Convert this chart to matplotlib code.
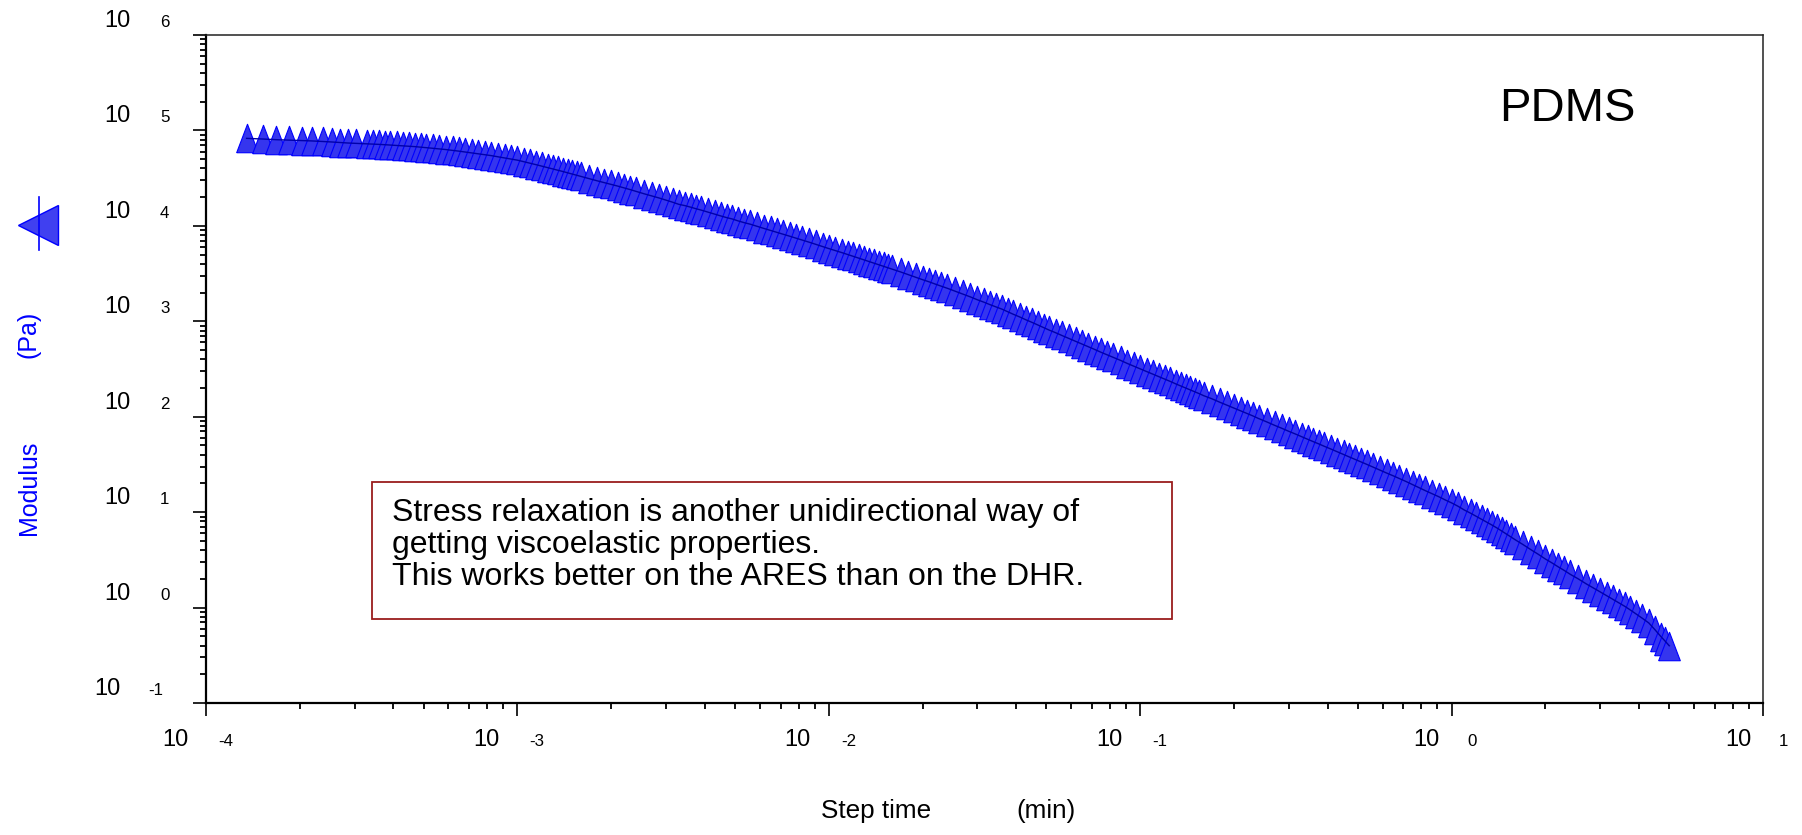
import numpy as np
import matplotlib
matplotlib.use('Agg')
import matplotlib.pyplot as plt
from matplotlib.lines import Line2D
from matplotlib.patches import Rectangle
from matplotlib.ticker import LogLocator
from matplotlib.transforms import blended_transform_factory, ScaledTranslation

W, H, DPI = 1802, 835, 100
plt.rcParams['font.family'] = ['Liberation Sans', 'DejaVu Sans']

# ---- data, step time in min, modulus in Pa ----
time_dec4 = [1.35e-4, 1.52e-4, 1.68e-4, 1.85e-4, 2.03e-4, 2.19e-4, 2.37e-4, 2.53e-4, 2.70e-4,
             2.86e-4, 3.04e-4, 3.3e-4, 3.45e-4, 3.6e-4, 3.75e-4, 3.9e-4, 4.1e-4, 4.3e-4, 4.5e-4,
             4.7e-4, 4.9e-4, 5.1e-4, 5.35e-4, 5.6e-4, 5.9e-4, 6.2e-4, 6.5e-4, 6.8e-4, 7.15e-4,
             7.5e-4, 7.85e-4, 8.2e-4, 8.65e-4, 9.1e-4, 9.55e-4]
mod_dec4 = [82600, 81300, 80000, 79100, 78200, 77600, 76600, 75700, 74600,
            73800, 73100, 72300, 71900, 71400, 70900, 70300, 69600, 68900, 68200,
            67600, 66800, 65900, 65000, 64100, 63000, 61800, 60600, 59400, 58200,
            57000, 55800, 54600, 53000, 51500, 50100]

time_dec3 = [1.0e-3, 1.05e-3, 1.1e-3, 1.15e-3, 1.2e-3, 1.25e-3, 1.3e-3, 1.35e-3, 1.4e-3, 1.45e-3,
             1.5e-3, 1.55e-3, 1.6e-3, 1.7e-3, 1.8e-3, 1.9e-3, 2.0e-3, 2.1e-3, 2.2e-3, 2.3e-3,
             2.4e-3, 2.55e-3, 2.7e-3, 2.85e-3, 3.0e-3, 3.15e-3, 3.3e-3, 3.45e-3, 3.6e-3, 3.75e-3,
             3.9e-3, 4.1e-3, 4.3e-3, 4.5e-3, 4.7e-3, 4.9e-3, 5.1e-3, 5.35e-3, 5.6e-3, 5.9e-3,
             6.2e-3, 6.5e-3, 6.8e-3, 7.15e-3, 7.5e-3, 7.85e-3, 8.2e-3, 8.65e-3, 9.1e-3, 9.55e-3]
mod_dec3 = [48800, 47000, 45300, 43700, 42200, 40800, 39500, 38300, 37100, 36000,
            34900, 33900, 33000, 31300, 29700, 28400, 27200, 26100, 25000, 24000,
            23000, 21700, 20600, 19600, 18600, 17700, 16800, 16300, 15700, 15100,
            14600, 13900, 13300, 12700, 12200, 11800, 11300, 10800, 10400, 9860,
            9380, 8960, 8570, 8170, 7780, 7440, 7110, 6740, 6380, 6070]

time_dec2 = [1.0e-2, 1.05e-2, 1.1e-2, 1.15e-2, 1.2e-2, 1.25e-2, 1.3e-2, 1.35e-2, 1.4e-2, 1.45e-2,
             1.5e-2, 1.55e-2, 1.6e-2, 1.7e-2, 1.8e-2, 1.9e-2, 2.0e-2, 2.1e-2, 2.2e-2, 2.3e-2,
             2.4e-2, 2.55e-2, 2.7e-2, 2.85e-2, 3.0e-2, 3.15e-2, 3.3e-2, 3.45e-2, 3.6e-2, 3.75e-2,
             3.9e-2, 4.1e-2, 4.3e-2, 4.5e-2, 4.7e-2, 4.9e-2, 5.1e-2, 5.35e-2, 5.6e-2, 5.9e-2,
             6.2e-2, 6.5e-2, 6.8e-2, 7.15e-2, 7.5e-2, 7.85e-2, 8.2e-2, 8.65e-2, 9.1e-2, 9.55e-2]
mod_dec2 = [5780, 5510, 5250, 5010, 4790, 4580, 4390, 4220, 4060, 3900,
            3760, 3630, 3510, 3290, 3080, 2900, 2730, 2590, 2450, 2330,
            2220, 2060, 1920, 1800, 1680, 1585, 1490, 1413, 1340, 1262,
            1190, 1111, 1035, 972, 912, 859, 809, 759, 711, 662,
            617, 578, 542, 506, 472, 444, 418, 389, 361, 338]

time_dec1 = [1.0e-1, 1.05e-1, 1.1e-1, 1.15e-1, 1.2e-1, 1.25e-1, 1.3e-1, 1.35e-1, 1.4e-1, 1.45e-1,
             1.5e-1, 1.55e-1, 1.6e-1, 1.7e-1, 1.8e-1, 1.9e-1, 2.0e-1, 2.1e-1, 2.2e-1, 2.3e-1,
             2.4e-1, 2.55e-1, 2.7e-1, 2.85e-1, 3.0e-1, 3.15e-1, 3.3e-1, 3.45e-1, 3.6e-1, 3.75e-1,
             3.9e-1, 4.1e-1, 4.3e-1, 4.5e-1, 4.7e-1, 4.9e-1, 5.1e-1, 5.35e-1, 5.6e-1, 5.9e-1,
             6.2e-1, 6.5e-1, 6.8e-1, 7.15e-1, 7.5e-1, 7.85e-1, 8.2e-1, 8.65e-1, 9.1e-1, 9.55e-1]
mod_dec1 = [317, 297, 278, 262, 247, 234, 221, 210, 200, 191,
            182, 174, 166, 154, 142, 132, 123, 115, 108, 102,
            95.7, 88.2, 81.3, 75.6, 70.3, 65.9, 61.7, 58.1, 54.7, 51.8,
            49.0, 45.8, 42.8, 40.2, 37.8, 35.7, 33.7, 31.6, 29.6, 27.5,
            25.6, 24.0, 22.5, 20.9, 19.4, 18.1, 16.9, 15.6, 14.5, 13.4]

time_dec0 = [1.0, 1.05, 1.1, 1.15, 1.2, 1.25, 1.3, 1.35, 1.4, 1.45,
             1.5, 1.55, 1.6, 1.7, 1.8, 1.9, 2.0, 2.1, 2.2, 2.3,
             2.4, 2.55, 2.7, 2.85, 3.0, 3.15, 3.3, 3.45, 3.6, 3.75,
             3.9, 4.1, 4.3, 4.5, 4.7, 4.85, 5.0]
mod_dec0 = [12.5, 11.5, 10.5, 9.76, 9.04, 8.41, 7.83, 7.30, 6.81, 6.33,
            5.89, 5.50, 5.14, 4.55, 4.03, 3.61, 3.23, 2.94, 2.67, 2.45,
            2.24, 2.00, 1.78, 1.61, 1.46, 1.33, 1.22, 1.12, 1.03, 0.943,
            0.863, 0.771, 0.689, 0.585, 0.497, 0.445, 0.398]

time_min = time_dec4 + time_dec3 + time_dec2 + time_dec1 + time_dec0
modulus_pa = mod_dec4 + mod_dec3 + mod_dec2 + mod_dec1 + mod_dec0

x_tick_exps = [-4, -3, -2, -1, 0, 1]
y_tick_exps = [-1, 0, 1, 2, 3, 4, 5, 6]
title_text = "PDMS"
note_lines = [
    "Stress relaxation is another unidirectional way of",
    "getting viscoelastic properties.",
    "This works better on the ARES than on the DHR.",
]
x_label_parts = ["Step time", "(min)"]
y_label_parts = ["Modulus", "(Pa)"]

# ---- figure ----
fig = plt.figure(figsize=(W / DPI, H / DPI), dpi=DPI)
fig.patch.set_facecolor('white')


def fx(px):
    return px / W


def fy(py):
    return 1 - py / H


def off(dx, dy):
    return ScaledTranslation(dx / DPI, -dy / DPI, fig.dpi_scale_trans)


ax = fig.add_axes([fx(206), fy(703), fx(1763) - fx(206), fy(35) - fy(703)])
ax.set_xscale('log')
ax.set_yscale('log')
ax.set_xlim(1e-4, 1e1)
ax.set_ylim(1e-1, 1e6)

for a in (ax.xaxis, ax.yaxis):
    a.set_major_locator(LogLocator(base=10, numticks=20))
    a.set_minor_locator(LogLocator(base=10, subs=np.arange(2, 10), numticks=20))
ax.tick_params(which='major', direction='out', length=9.5, width=1.2,
               labelbottom=False, labelleft=False, color='black')
ax.tick_params(which='minor', direction='out', length=4.5, width=1.3, color='black')

for s in ('left', 'bottom'):
    ax.spines[s].set_linewidth(1.6)
    ax.spines[s].set_color('black')
for s in ('top', 'right'):
    ax.spines[s].set_linewidth(1.1)
    ax.spines[s].set_color('#222222')

tri = [(-0.76, -1.0), (0.76, -1.0), (0.0, 1.0), (-0.76, -1.0)]
ax.plot(time_min, modulus_pa, linestyle='none', marker=tri, markersize=20.5,
        markerfacecolor='#3535ee', markeredgecolor='#0000ff', markeredgewidth=0.8,
        zorder=2, clip_on=False)
ax.plot(time_min, modulus_pa, color='#0000aa', lw=1.0, zorder=3)

# tick labels: "10" with the exponent as separate text on the same baseline
xt = blended_transform_factory(ax.transData, fig.transFigure)
for e in x_tick_exps:
    t = 10.0 ** e
    dten, dexp = (-18, 12) if e < 0 else (-12, 16)
    ax.text(t, fy(746), "10", transform=xt + off(dten, 0), ha='right', va='baseline',
            fontsize=17, color='black')
    ax.text(t, fy(746), str(e), transform=xt + off(dexp, 0), ha='left', va='baseline',
            fontsize=12.2, color='black')

yt = blended_transform_factory(fig.transFigure, ax.transData)
for e in y_tick_exps:
    v = 10.0 ** e
    ten_right, exp_left = (131, 160) if e >= 0 else (121, 148)
    ax.text(fx(ten_right), v, "10", transform=yt + off(0, -8), ha='right', va='baseline',
            fontsize=17, color='black')
    ax.text(fx(exp_left), v, str(e), transform=yt + off(0, -8), ha='left', va='baseline',
            fontsize=12.2, color='black')

# axis labels
fig.text(fx(821), fy(818), x_label_parts[0], ha='left', va='baseline', fontsize=18.8)
fig.text(fx(1016), fy(818), x_label_parts[1], ha='left', va='baseline', fontsize=18.8)
fig.text(fx(29), fy(488), y_label_parts[0], ha='center', va='center', rotation=90,
         fontsize=18, color='#0000ff')
fig.text(fx(29), fy(334), y_label_parts[1], ha='center', va='center', rotation=90,
         fontsize=18, color='#0000ff')

# legend symbol at left
fig.add_artist(Line2D([fx(37.5)], [fy(225)], marker='<', markersize=28.8, linestyle='none',
                      markerfacecolor='#4040f0', markeredgecolor='#0000ff',
                      markeredgewidth=1.0, transform=fig.transFigure))
fig.add_artist(Line2D([fx(39.3), fx(39.3)], [fy(197), fy(250)], color='#0000ff', lw=1.2,
                      transform=fig.transFigure))

# PDMS title
fig.text(fx(1499), fy(121), title_text, ha='left', va='baseline', fontsize=34)

# note box
fig.add_artist(Rectangle((fx(372), fy(619)), fx(1172) - fx(372), fy(482) - fy(619),
                         transform=fig.transFigure, fill=False, edgecolor='#9a1c1c', lw=1.3))
for line, base in zip(note_lines, [521, 553, 585]):
    fig.text(fx(392), fy(base), line, ha='left', va='baseline', fontsize=23)

fig.savefig('out.png', dpi=DPI, facecolor='white')
